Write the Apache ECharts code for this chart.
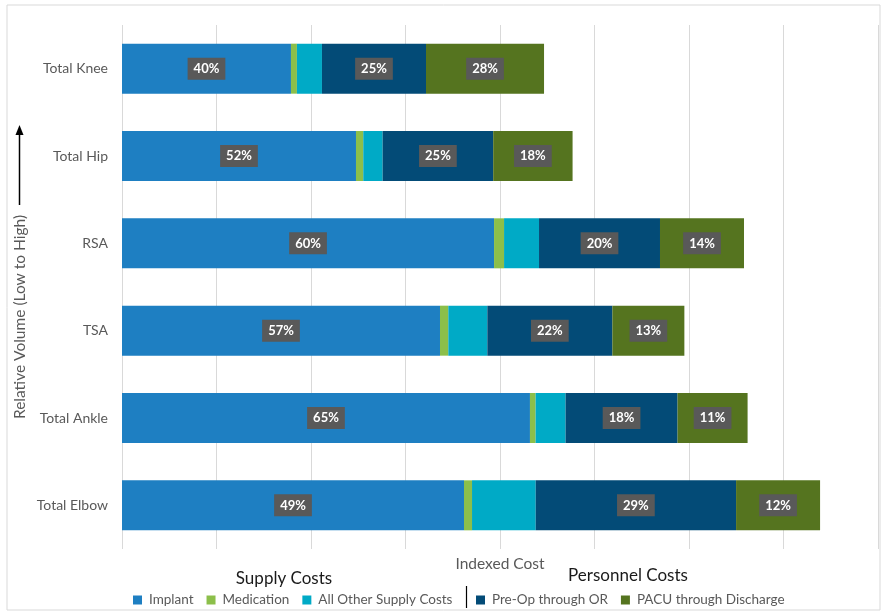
<!DOCTYPE html>
<html>
<head>
<meta charset="utf-8">
<script src="https://cdn.jsdelivr.net/npm/echarts@6/dist/echarts.min.js"></script>
<style>
html,body{margin:0;padding:0;background:#fff;}
#chart{width:883px;height:613px;}
</style>
</head>
<body>
<div id="chart"></div>
<script>
var categories = ['Total Knee', 'Total Hip', 'RSA', 'TSA', 'Total Ankle', 'Total Elbow'];
var implant = [178.8, 247.6, 393.7, 336.5, 431.7, 361.9];
var medication = [6.3, 7.7, 10.6, 8.8, 6.0, 8.5];
var otherSupply = [26.5, 20.5, 37.0, 41.3, 31.7, 67.4];
var preOp = [110.1, 117.0, 128.0, 132.3, 118.5, 212.0];
var pacu = [124.9, 84.0, 88.9, 76.2, 74.1, 88.9];
var implantPct = ['40%', '52%', '60%', '57%', '65%', '49%'];
var preOpPct = ['25%', '25%', '20%', '22%', '18%', '29%'];
var pacuPct = ['28%', '18%', '14%', '13%', '11%', '12%'];
var seriesNames = ['Implant', 'Medication', 'All Other Supply Costs', 'Pre-Op through OR', 'PACU through Discharge'];
var colors = ['#1e7fc2', '#8cbf4a', '#00aac6', '#034b77', '#55741f'];

var FONT = 'Lato, "Open Sans", sans-serif';
var GREY = '#595959';

function pctLabel(arr) {
  return {
    show: true,
    position: 'inside',
    formatter: function (p) { return arr[p.dataIndex]; },
    color: '#fff',
    fontWeight: 'bold',
    fontSize: 13,
    fontFamily: FONT,
    backgroundColor: '#595959',
    padding: [5, 6, 4, 6]
  };
}

function makeSeries(idx, data, label) {
  return {
    name: seriesNames[idx],
    type: 'bar',
    stack: 'cost',
    data: data,
    barWidth: 50,
    itemStyle: { color: colors[idx] },
    emphasis: { disabled: true },
    label: label || { show: false }
  };
}

var chart = echarts.init(document.getElementById('chart'));
chart.setOption({
  animation: false,
  color: colors,
  grid: { left: 122, right: 5, top: 25, bottom: 64, containLabel: false },
  xAxis: {
    type: 'value',
    min: 0,
    max: 800,
    interval: 100,
    axisLabel: { show: false },
    axisLine: { show: false },
    axisTick: { show: false },
    splitLine: { show: true, lineStyle: { color: '#d9d9d9', width: 1 } },
    name: 'Indexed Cost',
    nameLocation: 'middle',
    nameGap: 7,
    nameTextStyle: { color: GREY, fontSize: 15.5, fontFamily: FONT, verticalAlign: 'top' }
  },
  yAxis: {
    type: 'category',
    data: categories,
    inverse: true,
    axisLine: { show: false },
    axisTick: { show: false },
    axisLabel: { color: GREY, fontSize: 14, fontFamily: FONT, margin: 14 }
  },
  legend: [
    {
      data: seriesNames.slice(0, 3),
      left: 128,
      top: 588,
      itemWidth: 9,
      itemHeight: 9,
      itemGap: 13,
      icon: 'rect',
      textStyle: { color: GREY, fontSize: 13.5, fontFamily: FONT, padding: [0, 0, 0, 2] }
    },
    {
      data: seriesNames.slice(3),
      left: 471,
      top: 588,
      itemWidth: 9,
      itemHeight: 9,
      itemGap: 13,
      icon: 'rect',
      textStyle: { color: GREY, fontSize: 13.5, fontFamily: FONT, padding: [0, 0, 0, 2] }
    }
  ],
  graphic: [
    { type: 'rect', shape: { x: 7, y: 5, width: 873, height: 605 }, style: { fill: 'none', stroke: '#d9d9d9', lineWidth: 1 }, silent: true, z: -1 },
    { type: 'text', x: 20, y: 317, rotation: Math.PI / 2, style: { text: 'Relative Volume (Low to High)', fill: GREY, fontSize: 15.5, fontFamily: FONT, align: 'center', verticalAlign: 'middle' } },
    { type: 'line', shape: { x1: 19.5, y1: 205, x2: 19.5, y2: 133 }, style: { stroke: '#000', lineWidth: 1.5 } },
    { type: 'polygon', shape: { points: [[19.5, 125], [15.5, 135], [23.5, 135]] }, style: { fill: '#000' } },
    { type: 'text', x: 284, y: 579, style: { text: 'Supply Costs', fill: '#1a1a1a', fontSize: 17, fontFamily: FONT, align: 'center', verticalAlign: 'middle' } },
    { type: 'text', x: 628, y: 576, style: { text: 'Personnel Costs', fill: '#1a1a1a', fontSize: 17, fontFamily: FONT, align: 'center', verticalAlign: 'middle' } },
    { type: 'line', shape: { x1: 466.5, y1: 586, x2: 466.5, y2: 608 }, style: { stroke: '#000', lineWidth: 1.2 } }
  ],
  series: [
    makeSeries(0, implant, pctLabel(implantPct)),
    makeSeries(1, medication),
    makeSeries(2, otherSupply),
    makeSeries(3, preOp, pctLabel(preOpPct)),
    makeSeries(4, pacu, pctLabel(pacuPct))
  ]
});
</script>
</body>
</html>
